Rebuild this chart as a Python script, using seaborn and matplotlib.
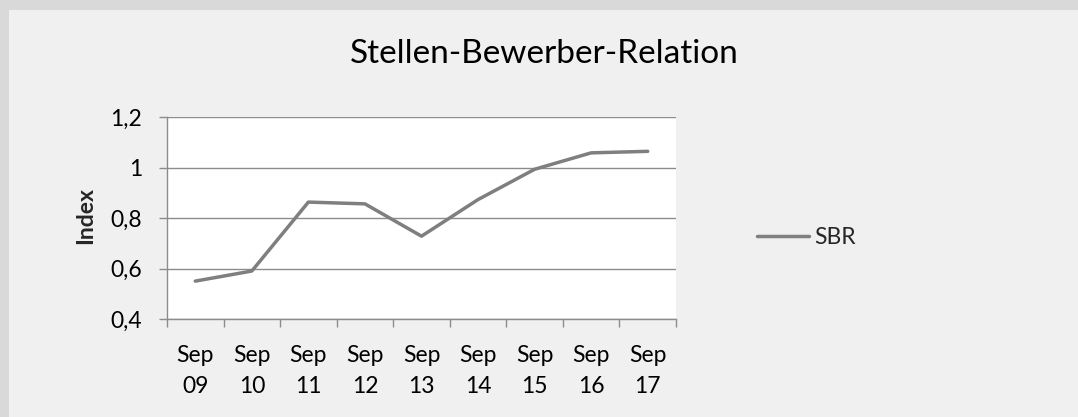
import matplotlib
matplotlib.use("Agg")
import matplotlib.pyplot as plt
import seaborn as sns
import pandas as pd
from matplotlib.patches import Rectangle
from matplotlib.ticker import FuncFormatter, FixedLocator

categories = ["Sep\n09", "Sep\n10", "Sep\n11", "Sep\n12", "Sep\n13", "Sep\n14", "Sep\n15", "Sep\n16", "Sep\n17"]
sbr = [0.55, 0.59, 0.863, 0.856, 0.728, 0.873, 0.993, 1.058, 1.064]
series_name = "SBR"
title = "Stellen-Bewerber-Relation"
ylabel = "Index"
yticks = [0.4, 0.6, 0.8, 1.0, 1.2]

sns.set_theme(style="white")
plt.rcParams['font.family'] = ['Lato', 'DejaVu Sans']

df = pd.DataFrame({"cat": categories, "val": sbr, "series": series_name})

W, H = 1078, 417
fig = plt.figure(figsize=(W / 100, H / 100), dpi=100, facecolor="#f0f0f0")
fig.patches.append(Rectangle((0, 1 - 10 / H), 1, 10 / H, transform=fig.transFigure,
                             facecolor="#d9d9d9", edgecolor="none", zorder=0))
fig.patches.append(Rectangle((0, 0), 9 / W, 1, transform=fig.transFigure,
                             facecolor="#d9d9d9", edgecolor="none", zorder=0))

ax = fig.add_axes([167 / W, 1 - 319 / H, (676 - 167) / W, (319 - 117) / H])
ax.set_facecolor("white")

sns.lineplot(data=df, x="cat", y="val", hue="series", palette=["#7f7f7f"],
             linewidth=2.5, sort=False, ax=ax, legend=True)

FS = 16.5

ax.set_xlim(-0.5, len(categories) - 0.5)
ax.set_ylim(0.4, 1.2)
ax.set_yticks(yticks)
ax.yaxis.set_major_formatter(FuncFormatter(lambda v, p: ("%g" % round(v, 2)).replace(".", ",")))
ax.grid(axis="y", color="#8c8c8c", linewidth=1.0)
ax.set_axisbelow(True)

ax.set_xticks(range(len(categories)))
ax.set_xticklabels(categories, linespacing=1.55)
ax.xaxis.set_minor_locator(FixedLocator([i - 0.5 for i in range(len(categories) + 1)]))
ax.tick_params(axis="x", which="major", length=0, pad=19, labelsize=FS, colors="black")
ax.tick_params(axis="x", which="minor", length=6, width=1, color="#8c8c8c", bottom=True)
ax.tick_params(axis="y", which="major", length=6, width=1, color="#8c8c8c", left=True,
               labelsize=FS, pad=12, labelcolor="black")

for side in ["top", "right"]:
    ax.spines[side].set_visible(False)
for side in ["left", "bottom"]:
    ax.spines[side].set_color("#8c8c8c")
    ax.spines[side].set_linewidth(1.0)

ax.set_xlabel("")
ax.set_ylabel(ylabel, fontsize=FS, fontweight="bold")
ax.yaxis.set_label_coords(96 / W, 1 - 215 / H, transform=fig.transFigure)

fig.text(544.5 / W, 1 - 54 / H, title, ha="center", va="center", fontsize=24, color="black")

handles, labels = ax.get_legend_handles_labels()
ax.legend(handles, labels, loc="center left", bbox_to_anchor=(736 / W, 1 - 238 / H),
          bbox_transform=fig.transFigure, frameon=False, fontsize=FS,
          handlelength=2.3, handletextpad=0.2)

fig.savefig("out.png", dpi=100, facecolor=fig.get_facecolor())
